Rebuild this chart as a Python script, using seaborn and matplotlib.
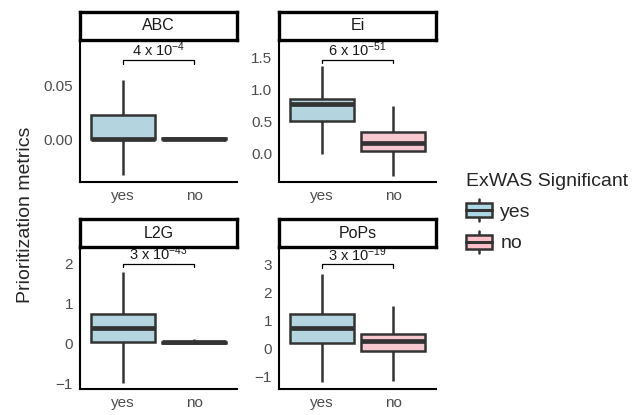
import numpy as np
import pandas as pd
import seaborn as sns
import matplotlib.pyplot as plt
from matplotlib.patches import Patch, Rectangle
from matplotlib.lines import Line2D
from matplotlib.legend_handler import HandlerBase

# five-number summaries: min, q1, median, q3, max
metrics = ["ABC", "Ei", "L2G", "PoPs"]
groups = ["yes", "no"]
abc_yes = [-0.033, 0.0, 0.0, 0.022, 0.055]
abc_no = [0.0, 0.0, 0.0, 0.0005, 0.001]
ei_yes = [0.0, 0.52, 0.78, 0.86, 1.375]
ei_no = [-0.34, 0.05, 0.17, 0.34, 0.75]
l2g_yes = [-0.98, 0.03, 0.38, 0.73, 1.77]
l2g_no = [0.0, 0.0, 0.02, 0.04, 0.1]
pops_yes = [-1.21, 0.21, 0.73, 1.23, 2.67]
pops_no = [-1.15, -0.11, 0.25, 0.5, 1.5]

pvals = ["4 x 10$^{-4}$", "6 x 10$^{-51}$", "3 x 10$^{-43}$", "3 x 10$^{-19}$"]
bracket_y = [0.073, 1.47, 1.98, 3.0]
ylims = [(-0.0398, 0.0917), (-0.44, 1.78), (-1.14, 2.40), (-1.45, 3.62)]
yticks = [[0.0, 0.05], [0.0, 0.5, 1.0, 1.5], [-1, 0, 1, 2], [-1, 0, 1, 2, 3]]
ytick_fmt = ["{:.2f}", "{:.1f}", "{:.0f}", "{:.0f}"]

stats = {
    "ABC": (abc_yes, abc_no),
    "Ei": (ei_yes, ei_no),
    "L2G": (l2g_yes, l2g_no),
    "PoPs": (pops_yes, pops_no),
}
rows = []
for m in metrics:
    for g, vals in zip(groups, stats[m]):
        for v in vals:
            rows.append({"metric": m, "sig": g, "value": v})
df = pd.DataFrame(rows)

palette = {"yes": "#ADD8E6", "no": "#FFC0CB"}
edge = "#333333"

sns.set_style("white")
plt.rcParams["font.family"] = ["Liberation Sans", "DejaVu Sans"]
plt.rcParams["mathtext.fontset"] = "custom"
plt.rcParams["mathtext.rm"] = "Liberation Sans"
plt.rcParams["mathtext.default"] = "regular"

W, H = 638, 415
fig = plt.figure(figsize=(W / 100, H / 100), dpi=100)

# panel boxes in pixels: x0, x1, y0 (top), y1 (bottom)
panel_px = [(80, 237, 40, 182), (279, 436, 40, 182),
            (80, 237, 247, 389), (279, 436, 247, 389)]
strip_h = 28

for i, m in enumerate(metrics):
    x0, x1, y0, y1 = panel_px[i]
    ax = fig.add_axes([x0 / W, 1 - y1 / H, (x1 - x0) / W, (y1 - y0) / H])
    sub = df[df["metric"] == m]
    sns.boxplot(data=sub, x="sig", y="value", hue="sig", palette=palette,
                order=groups, hue_order=groups, dodge=False, width=0.9,
                whis=(0, 100), linewidth=1.8, linecolor=edge, legend=False,
                showcaps=False,
                medianprops={"linewidth": 3.4, "color": edge}, ax=ax)
    ax.set_xlim(-0.6, 1.6)
    ax.set_ylim(*ylims[i])
    ax.set_yticks(yticks[i])
    ax.set_yticklabels([ytick_fmt[i].format(t).replace("-", "\u2212") for t in yticks[i]])
    ax.set_xlabel("")
    ax.set_ylabel("")
    for s in ["top", "right"]:
        ax.spines[s].set_visible(False)
    for s in ["left", "bottom"]:
        ax.spines[s].set_color("black")
        ax.spines[s].set_linewidth(1.5)
    ax.tick_params(axis="both", length=3, width=1.2, color=edge,
                   labelsize=11, labelcolor="#4d4d4d", pad=2)

    # significance bracket
    by = bracket_y[i]
    d = (ylims[i][1] - ylims[i][0]) * 0.025
    ax.plot([0, 0, 1, 1], [by - d, by, by, by - d], color="black", lw=0.9)
    ax.text(0.5, by + d * 0.2, pvals[i], ha="center", va="bottom", fontsize=10.5,
            color="#1a1a1a")

    # facet strip
    sax = fig.add_axes([x0 / W, 1 - y0 / H, (x1 - x0) / W, strip_h / H])
    sax.set_xticks([])
    sax.set_yticks([])
    for s in sax.spines.values():
        s.set_linewidth(2.4)
        s.set_color("black")
    sax.text(0.5, 0.5, m, ha="center", va="center", fontsize=11.5,
             color="#1a1a1a", transform=sax.transAxes)

fig.text(25 / W, 1 - 215 / H, "Prioritization metrics", rotation=90,
         ha="center", va="center", fontsize=14)


class BoxHandler(HandlerBase):
    def create_artists(self, legend, orig_handle, xdescent, ydescent,
                       width, height, fontsize, trans):
        fc = orig_handle.get_facecolor()
        bh = height * 0.62
        by = (height - bh) / 2 - ydescent
        bx = -xdescent
        rect = Rectangle((bx, by), width, bh, facecolor=fc, edgecolor=edge,
                         lw=1.8, transform=trans)
        cx = bx + width / 2
        wl = Line2D([cx, cx], [-ydescent, -ydescent + height], color=edge,
                    lw=1.8, transform=trans)
        med = Line2D([bx, bx + width], [by + bh / 2, by + bh / 2], color=edge,
                     lw=2.2, transform=trans)
        return [wl, rect, med]


handles = [Patch(facecolor=palette[g]) for g in groups]
leg = fig.legend(handles, groups, title="ExWAS Significant",
                 handler_map={Patch: BoxHandler()},
                 loc="upper left", bbox_to_anchor=(452 / W, 1 - 159 / H),
                 frameon=False, fontsize=14, title_fontsize=14,
                 handlelength=1.34, handleheight=1.4, labelspacing=0.48,
                 handletextpad=0.45, borderpad=0.2)
leg._legend_box.align = "left"

fig.savefig("out.png", dpi=100)
